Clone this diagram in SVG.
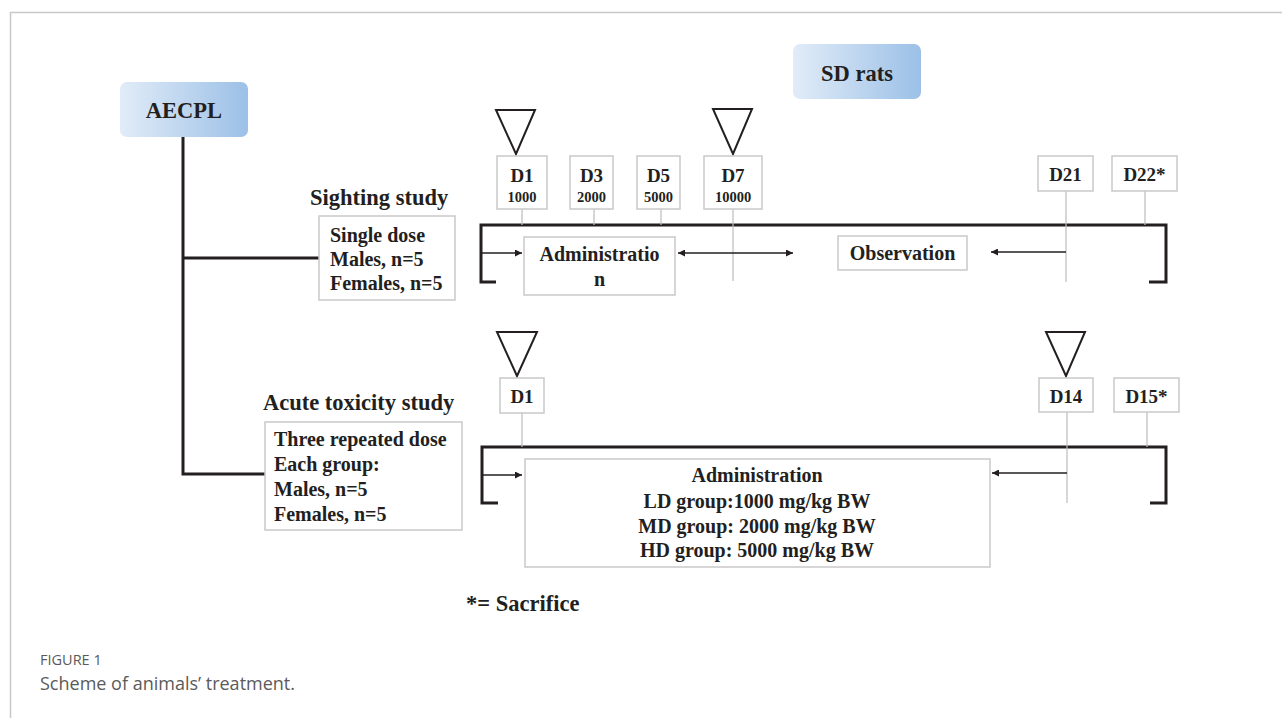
<svg xmlns="http://www.w3.org/2000/svg" width="1282" height="718" viewBox="0 0 1282 718">
<defs>
<linearGradient id="blue" x1="0" y1="0" x2="1" y2="0">
<stop offset="0" stop-color="#e1ecf8"/>
<stop offset="1" stop-color="#9cc0e7"/>
</linearGradient>
<marker id="ah" viewBox="0 0 10 10" refX="10" refY="5" markerWidth="8" markerHeight="7" markerUnits="userSpaceOnUse" orient="auto-start-reverse">
<path d="M0,0 L10,5 L0,10 z" fill="#231f20"/>
</marker>
</defs>
<style>
.t{font-family:"Liberation Serif","Times New Roman",serif;font-weight:bold;fill:#231f20}
.box{fill:#fff;stroke:#c9c9c9;stroke-width:1.5}
.tick{stroke:#bdbdbd;stroke-width:1.2;fill:none}
.thick{stroke:#231f20;stroke-width:3;fill:none}
.arr{stroke:#231f20;stroke-width:1.5;fill:none}
.tri{fill:none;stroke:#231f20;stroke-width:2}
.cap{font-family:"Open Sans","Liberation Sans",sans-serif;fill:#5a5a5a}
</style>
<rect width="1282" height="718" fill="#fff"/>
<path d="M10.5,718 V12.5 H1282" fill="none" stroke="#c8c8c8" stroke-width="1.5"/>

<g id="connectors">
<path class="thick" d="M183,137 V474 H265"/>
<path class="thick" d="M183,258 H320"/>
<path class="thick" d="M496,282 H481 V225 H1166 V282 H1149"/>
<path class="thick" d="M498,503 H482 V447 H1166 V503 H1150"/>
<path class="tick" d="M522,209 V225 M594,209 V225 M661,209 V225 M733,209 V281 M1066,191 V282 M1145,191 V225"/>
<path class="tick" d="M522,413 V447 M1067,412 V503 M1147,412 V447"/>
<path class="arr" d="M482,253 H522" marker-end="url(#ah)"/>
<path class="arr" d="M678,253 H793" marker-start="url(#ah)" marker-end="url(#ah)"/>
<path class="arr" d="M1066,252 H991" marker-end="url(#ah)"/>
<path class="arr" d="M483,475 H522" marker-end="url(#ah)"/>
<path class="arr" d="M1067,473 H992" marker-end="url(#ah)"/>
<path class="tri" d="M496,110 H535 L516,154 Z"/>
<path class="tri" d="M713,109 H752 L733,154 Z"/>
<path class="tri" d="M497,332 H537 L517,376 Z"/>
<path class="tri" d="M1046,332 H1085 L1066,376 Z"/>
</g>

<g id="aecpl">
<rect x="120" y="82" width="128" height="55" rx="7" fill="url(#blue)"/>
<text class="t" x="184" y="118" font-size="22.5" text-anchor="middle">AECPL</text>
</g>
<g id="sdrats">
<rect x="793" y="44" width="128" height="55" rx="7" fill="url(#blue)"/>
<text class="t" x="857" y="81" font-size="22.5" text-anchor="middle">SD rats</text>
</g>

<g id="sighting">
<text class="t" x="310" y="205" font-size="22.5">Sighting study</text>
<rect class="box" x="319" y="216" width="136" height="84"/>
<text class="t" font-size="20"><tspan x="330" y="242">Single dose</tspan><tspan x="330" y="266">Males, n=5</tspan><tspan x="330" y="290">Females, n=5</tspan></text>
</g>

<g id="acute">
<text class="t" x="263" y="410" font-size="22.5">Acute toxicity study</text>
<rect class="box" x="265" y="422" width="197" height="108"/>
<text class="t" font-size="20"><tspan x="274" y="446">Three repeated dose</tspan><tspan x="274" y="471">Each group:</tspan><tspan x="274" y="496">Males, n=5</tspan><tspan x="274" y="521">Females, n=5</tspan></text>
</g>

<g id="d1a"><rect class="box" x="497" y="156" width="50" height="53"/><text class="t" text-anchor="middle"><tspan x="522" y="182" font-size="19">D1</tspan><tspan x="522" y="202" font-size="14.5">1000</tspan></text></g>
<g id="d3"><rect class="box" x="570" y="156" width="43" height="53"/><text class="t" text-anchor="middle"><tspan x="591.5" y="182" font-size="19">D3</tspan><tspan x="591.5" y="202" font-size="14.5">2000</tspan></text></g>
<g id="d5"><rect class="box" x="637" y="156" width="43" height="53"/><text class="t" text-anchor="middle"><tspan x="658.5" y="182" font-size="19">D5</tspan><tspan x="658.5" y="202" font-size="14.5">5000</tspan></text></g>
<g id="d7"><rect class="box" x="704" y="156" width="58" height="53"/><text class="t" text-anchor="middle"><tspan x="733" y="182" font-size="19">D7</tspan><tspan x="733" y="202" font-size="14.5">10000</tspan></text></g>
<g id="d21"><rect class="box" x="1038" y="156" width="55" height="35"/><text class="t" x="1065.5" y="181" font-size="19" text-anchor="middle">D21</text></g>
<g id="d22"><rect class="box" x="1112" y="156" width="65" height="35"/><text class="t" x="1144.5" y="181" font-size="19" text-anchor="middle">D22*</text></g>

<g id="admin1">
<rect class="box" x="524" y="237" width="151" height="58"/>
<text class="t" font-size="20" text-anchor="middle"><tspan x="599.5" y="261">Administratio</tspan><tspan x="599.5" y="286">n</tspan></text>
</g>
<g id="observation">
<rect class="box" x="838" y="236" width="129" height="34"/>
<text class="t" x="902.5" y="260" font-size="20" text-anchor="middle">Observation</text>
</g>

<g id="d1b"><rect class="box" x="500" y="378" width="44" height="35"/><text class="t" x="522" y="403" font-size="19" text-anchor="middle">D1</text></g>
<g id="d14"><rect class="box" x="1039" y="378" width="54" height="34"/><text class="t" x="1066" y="403" font-size="19" text-anchor="middle">D14</text></g>
<g id="d15"><rect class="box" x="1114" y="378" width="65" height="34"/><text class="t" x="1146.5" y="403" font-size="19" text-anchor="middle">D15*</text></g>

<g id="admin2">
<rect class="box" x="525" y="459" width="465" height="108"/>
<text class="t" font-size="20" text-anchor="middle"><tspan x="757" y="482">Administration</tspan><tspan x="757" y="508">LD group:1000 mg/kg BW</tspan><tspan x="757" y="533">MD group: 2000 mg/kg BW</tspan><tspan x="757" y="557">HD group: 5000 mg/kg BW</tspan></text>
</g>

<g id="legend"><text class="t" x="466" y="611" font-size="22.5">*= Sacrifice</text></g>

<g id="caption">
<text class="cap" x="40" y="665" font-size="14.5">FIGURE 1</text>
<text class="cap" x="40" y="690" font-size="18">Scheme of animals’ treatment.</text>
</g>
</svg>
